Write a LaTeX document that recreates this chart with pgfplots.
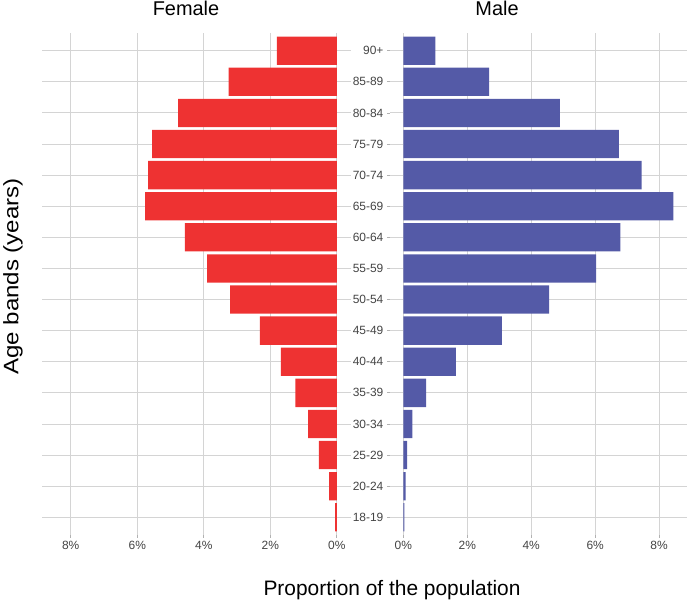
\documentclass[border=0pt]{standalone}
\usepackage{pgfplots}
\pgfplotsset{compat=1.18}
\usepackage{fontspec}
\setmainfont{Liberation Sans}
\definecolor{fred}{RGB}{238,50,50}
\definecolor{mblue}{RGB}{84,90,167}
\definecolor{gridc}{RGB}{212,212,212}
\definecolor{tickc}{RGB}{68,68,68}
\pgfplotsset{
  pyr/.style={
    scale only axis,
    width=#1, height=502bp,
    xmin=-0.42, xmax=8.87,
    ymin=-0.57, ymax=15.57,
    axis line style={draw=none},
    xbar, bar width=0.91, bar shift=0pt,
    xtick={0,2,4,6,8},
    xticklabels={0\%,2\%,4\%,6\%,8\%},
    ytick={0,...,15},
    xmajorgrids, ymajorgrids,
    major grid style={gridc, line width=0.9bp},
    tick align=outside,
    major tick length=3bp,
    tick style={gray!60, line width=0.8bp},
    xtick pos=left,
    ytick pos=left,
    ticklabel style={font=\fontsize{12}{14}\selectfont, text=tickc},
  }
}
\begin{document}
\begin{tikzpicture}[x=1bp,y=1bp]
\useasboundingbox (0,0) rectangle (690,602);
% Female
\begin{axis}[pyr=309bp, at={(41.8bp,67bp)}, anchor=south west,
  x dir=reverse, ymajorticks=false]
\addplot[fill=fred, draw=none] coordinates {
 (0.05,0) (0.23,1) (0.54,2) (0.86,3) (1.25,4) (1.68,5) (2.31,6) (3.21,7)
 (3.90,8) (4.57,9) (5.76,10) (5.67,11) (5.55,12) (4.77,13) (3.25,14) (1.80,15)};
\end{axis}
% Male
\begin{axis}[pyr=297bp, at={(389.9bp,67bp)}, anchor=south west,
  yticklabels={18-19,20-24,25-29,30-34,35-39,40-44,45-49,50-54,55-59,60-64,65-69,70-74,75-79,80-84,85-89,90+}]
\addplot[fill=mblue, draw=none] coordinates {
 (0.03,0) (0.07,1) (0.12,2) (0.28,3) (0.71,4) (1.64,5) (3.08,6) (4.56,7)
 (6.03,8) (6.79,9) (8.45,10) (7.45,11) (6.74,12) (4.90,13) (2.68,14) (1.00,15)};
\end{axis}
\node[anchor=base, font=\fontsize{20}{24}\selectfont] at (186,586) {Female};
\node[anchor=base, font=\fontsize{20}{24}\selectfont] at (497,586) {Male};
\node[anchor=base west, inner sep=0pt, font=\fontsize{21}{25}\selectfont] at (263.3,6) {Proportion of the population};
\node[anchor=north, rotate=90, inner sep=0pt, font=\fontsize{21}{25}\selectfont] at (3,325.5) {\scalebox{1.15}[1]{Age bands (years)}};
\end{tikzpicture}
\end{document}
